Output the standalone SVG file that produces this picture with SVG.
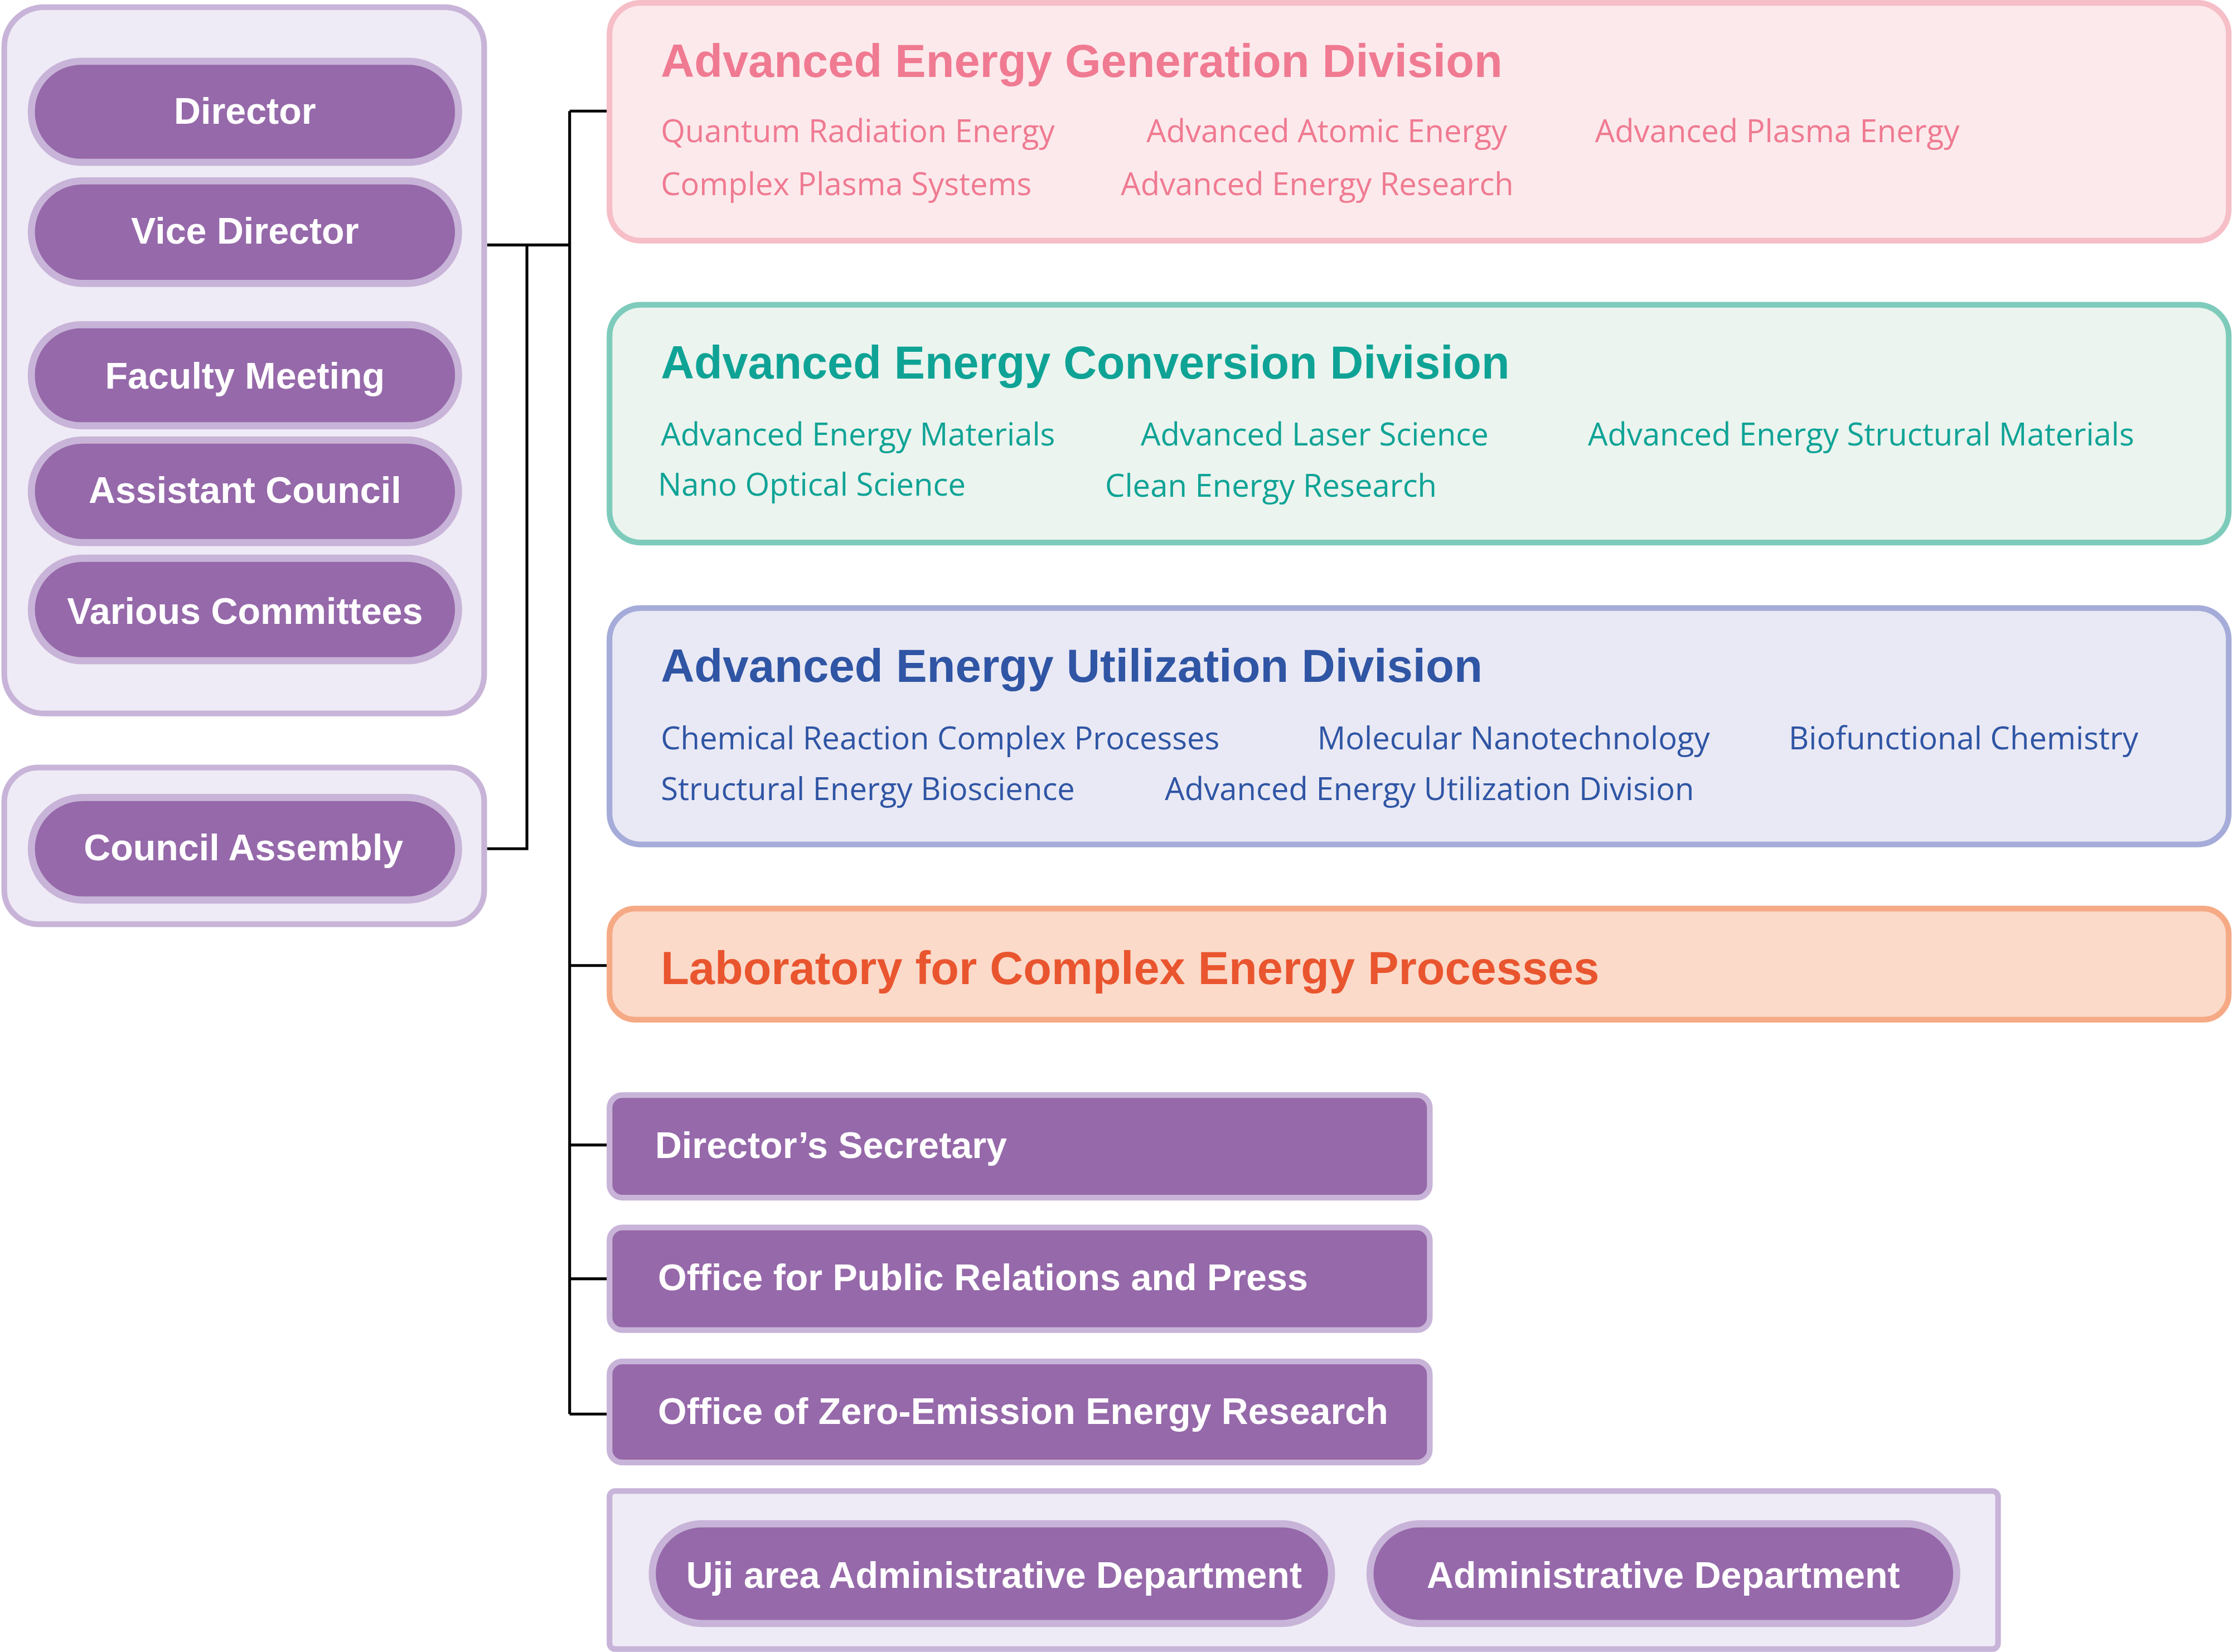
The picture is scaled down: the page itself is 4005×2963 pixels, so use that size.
<svg xmlns="http://www.w3.org/2000/svg" width="4005" height="2963" viewBox="0 0 4005 2963">
<style>
.panel{fill:#efebf6;stroke:#c8b4d8;stroke-width:4}
.pill{fill:#9669aa;stroke:#c8b4d8;stroke-width:5}
.box{fill:#9669aa;stroke:#c8b4d8;stroke-width:4}
.pt{font-family:"Liberation Sans",Arial,sans-serif;font-weight:bold;font-size:26px;fill:#fff;text-anchor:middle}
.bt{font-family:"Liberation Sans",Arial,sans-serif;font-weight:bold;font-size:26px;fill:#fff}
.title{font-family:"Liberation Sans",Arial,sans-serif;font-weight:bold;font-size:33px}
.sub{font-family:"Open Sans","Liberation Sans",sans-serif;font-size:22px}
.conn{fill:none;stroke:#000;stroke-width:2}
.link{fill:#c8b4d8}
</style>
<rect width="4005" height="2963" fill="#fff"/>
<g transform="scale(2.5542)">
<g id="connectors">
<path class="conn" d="M342,172 H400 M370,172 V596 H342 M400,78 V993 M400,78 H428 M400,678 H428 M400,804 H428 M400,898 H428 M400,993 H428"/>
<rect class="link" x="150" y="297" width="16" height="14"/>
<rect class="link" x="150" y="379" width="16" height="15"/>
<rect class="link" x="934" y="1101" width="30" height="8"/>
</g>
<g id="leadership-panel"><rect class="panel" x="3" y="5" width="337" height="496" rx="28"/></g>
<g id="director"><rect class="pill" x="22" y="43" width="300" height="71" rx="35"/><text class="pt" x="172" y="87">Director</text></g>
<g id="vice-director"><rect class="pill" x="22" y="127" width="300" height="72" rx="36"/><text class="pt" x="172" y="171">Vice Director</text></g>
<g id="faculty-meeting"><rect class="pill" x="22" y="228" width="300" height="71" rx="35"/><text class="pt" x="172" y="273">Faculty Meeting</text></g>
<g id="assistant-council"><rect class="pill" x="22" y="309" width="300" height="72" rx="36"/><text class="pt" x="172" y="353">Assistant Council</text></g>
<g id="various-committees"><rect class="pill" x="22" y="392" width="300" height="72" rx="36"/><text class="pt" x="172" y="438">Various Committees</text></g>
<g id="council-panel"><rect class="panel" x="3" y="539" width="337" height="110" rx="24"/></g>
<g id="council-assembly"><rect class="pill" x="22" y="560" width="300" height="72" rx="36"/><text class="pt" x="171" y="604">Council Assembly</text></g>

<g id="generation-division">
<rect x="428" y="2" width="1137" height="167" rx="22" fill="#fce9ec" stroke="#f6bec7" stroke-width="4"/>
<text class="title" x="464" y="54" fill="#ef7a91" textLength="591" lengthAdjust="spacingAndGlyphs">Advanced Energy Generation Division</text>
<g class="sub" fill="#ef7a91">
<text x="464" y="100">Quantum Radiation Energy</text>
<text x="805" y="100">Advanced Atomic Energy</text>
<text x="1120" y="100">Advanced Plasma Energy</text>
<text x="464" y="137">Complex Plasma Systems</text>
<text x="787" y="137">Advanced Energy Research</text>
</g></g>

<g id="conversion-division">
<rect x="428" y="214" width="1137" height="167" rx="22" fill="#ebf4ee" stroke="#7ecbbb" stroke-width="4"/>
<text class="title" x="464" y="266" fill="#0fa396" textLength="596" lengthAdjust="spacingAndGlyphs">Advanced Energy Conversion Division</text>
<g class="sub" fill="#0fa396">
<text x="464" y="313">Advanced Energy Materials</text>
<text x="801" y="313">Advanced Laser Science</text>
<text x="1115" y="313">Advanced Energy Structural Materials</text>
<text x="462" y="348">Nano Optical Science</text>
<text x="776" y="349">Clean Energy Research</text>
</g></g>

<g id="utilization-division">
<rect x="428" y="427" width="1137" height="166" rx="22" fill="#e9e9f5" stroke="#a5acd9" stroke-width="4"/>
<text class="title" x="464" y="479" fill="#2f55a4" textLength="577" lengthAdjust="spacingAndGlyphs">Advanced Energy Utilization Division</text>
<g class="sub" fill="#2f55a4">
<text x="464" y="526">Chemical Reaction Complex Processes</text>
<text x="925" y="526">Molecular Nanotechnology</text>
<text x="1256" y="526">Biofunctional Chemistry</text>
<text x="464" y="562">Structural Energy Bioscience</text>
<text x="818" y="562">Advanced Energy Utilization Division</text>
</g></g>

<g id="laboratory">
<rect x="428" y="638" width="1137" height="78" rx="18" fill="#fbdaca" stroke="#f5aa85" stroke-width="4"/>
<text class="title" x="464" y="691" fill="#e9552e" textLength="659" lengthAdjust="spacingAndGlyphs">Laboratory for Complex Energy Processes</text>
</g>

<g id="directors-secretary"><rect class="box" x="428" y="769" width="576" height="72" rx="9"/><text class="bt" x="460" y="813">Director’s Secretary</text></g>
<g id="public-relations"><rect class="box" x="428" y="862" width="576" height="72" rx="9"/><text class="bt" x="462" y="906">Office for Public Relations and Press</text></g>
<g id="zero-emission"><rect class="box" x="428" y="956" width="576" height="71" rx="9"/><text class="bt" x="462" y="1000">Office of Zero-Emission Energy Research</text></g>

<g id="admin-panel"><rect x="428" y="1047" width="975" height="111" rx="4" fill="#efebf6" stroke="#c8b4d8" stroke-width="4"/></g>
<g id="uji-admin"><rect class="pill" x="458" y="1070" width="477" height="70" rx="35"/><text class="pt" x="698" y="1115">Uji area Administrative Department</text></g>
<g id="admin-dept"><rect class="pill" x="962" y="1070" width="412" height="70" rx="35"/><text class="pt" x="1168" y="1115">Administrative Department</text></g>
</g>
</svg>
